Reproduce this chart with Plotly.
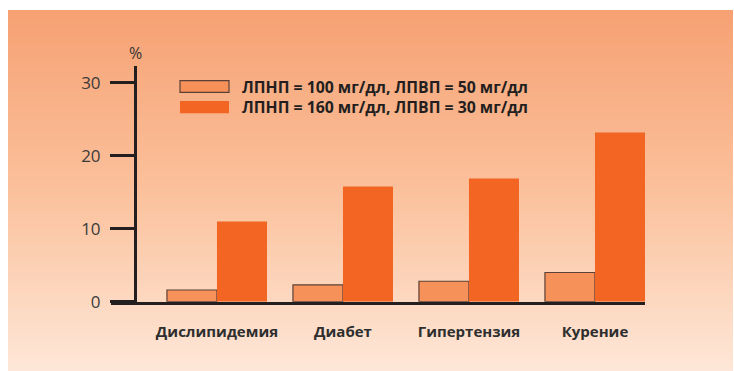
import plotly.graph_objects as go

# Risk factor prevalence (%) by lipid profile
categories = ["Дислипидемия", "Диабет", "Гипертензия", "Курение"]
series_names = ["ЛПНП = 100 мг/дл, ЛПВП = 50 мг/дл", "ЛПНП = 160 мг/дл, ЛПВП = 30 мг/дл"]
values_low = [1.6, 2.3, 2.8, 4.0]
values_high = [11.0, 15.8, 16.9, 23.2]
y_ticks = [0, 10, 20, 30]

W, H = 734, 371
INK = "#231f20"
LIGHT = "#f7915a"
DARK = "#f26522"
OUTLINE = "#5a4036"


def px_x(p):
    return p / W


def px_y(p):
    return 1 - p / H


def hex_rgb(h):
    h = h.lstrip("#")
    return [int(h[i:i + 2], 16) for i in (0, 2, 4)]


# peach panel with vertical gradient, built from thin horizontal bands
grad_stops = [(0.0, "#f6a173"), (0.5, "#fbc19c"), (1.0, "#fee7d8")]


def grad_color(t):
    for (t0, c0), (t1, c1) in zip(grad_stops[:-1], grad_stops[1:]):
        if t <= t1:
            f = (t - t0) / (t1 - t0)
            a, b = hex_rgb(c0), hex_rgb(c1)
            return "rgb(%d,%d,%d)" % tuple(round(a[i] + (b[i] - a[i]) * f) for i in range(3))
    return grad_stops[-1][1]


panel_top, panel_bottom, panel_left, panel_right = 10, 371, 8, 733
band = 2
shapes = []
y = panel_top
while y < panel_bottom:
    y2 = min(y + band + 0.6, panel_bottom)
    t = (y - panel_top) / (panel_bottom - panel_top)
    shapes.append(dict(
        type="rect", xref="paper", yref="paper", layer="below",
        x0=px_x(panel_left), x1=px_x(panel_right), y0=px_y(y2), y1=px_y(y),
        fillcolor=grad_color(t), line=dict(width=0),
    ))
    y += band

fig = go.Figure()
fig.add_trace(go.Bar(
    x=categories, y=values_low, name=series_names[0],
    marker=dict(color=LIGHT, line=dict(color=OUTLINE, width=1.2)),
    showlegend=False,
))
fig.add_trace(go.Bar(
    x=categories, y=values_high, name=series_names[1],
    marker=dict(color=DARK, line=dict(width=0)),
    showlegend=False,
))

# legend drawn by hand: wide swatches with labels
swatches = [(LIGHT, 80.7, 92.3, 1.2), (DARK, 101, 113.3, 0)]
annotations = []
for (col, y0, y1, lw), name in zip(swatches, series_names):
    shapes.append(dict(
        type="rect", xref="paper", yref="paper",
        x0=px_x(180), x1=px_x(229), y0=px_y(y1), y1=px_y(y0),
        fillcolor=col, line=dict(color=OUTLINE, width=lw),
    ))
    annotations.append(dict(
        x=px_x(240), y=px_y((y0 + y1) / 2), xref="paper", yref="paper",
        text=name, showarrow=False, xanchor="left", yanchor="middle",
        font=dict(family="Open Sans", size=15.8, color=INK, weight="bold"),
    ))

annotations.append(dict(
    x=px_x(135), y=px_y(53), xref="paper", yref="paper",
    text="%", showarrow=False, xanchor="center", yanchor="middle",
    font=dict(family="Open Sans", size=16, color="#333333"),
))

fig.update_layout(
    width=W, height=H,
    margin=dict(l=0, r=0, t=0, b=0, pad=0),
    paper_bgcolor="white",
    plot_bgcolor="rgba(0,0,0,0)",
    barmode="group", bargap=0.206, bargroupgap=0,
    shapes=shapes,
    annotations=annotations,
    xaxis=dict(
        domain=[px_x(111), px_x(645)],
        range=[-0.841, 3.397],
        automargin=False,
        showline=True, linecolor=INK, linewidth=3,
        showgrid=False, zeroline=False, ticks="",
        tickfont=dict(family="Open Sans", size=15, color="#2e2e2e", weight="bold"),
        ticklabelstandoff=14,
    ),
    yaxis=dict(
        domain=[px_y(301.7), px_y(66)],
        range=[0, 32.3],
        anchor="free", position=px_x(135),
        automargin=False,
        showline=True, linecolor=INK, linewidth=3,
        showgrid=False, zeroline=False,
        tickvals=y_ticks, ticks="outside", ticklen=24, tickwidth=2.5, tickcolor=INK,
        tickfont=dict(family="Open Sans", size=17, color="#3a3a3a"),
        ticklabelstandoff=6,
    ),
)

fig.write_html("out.html")
